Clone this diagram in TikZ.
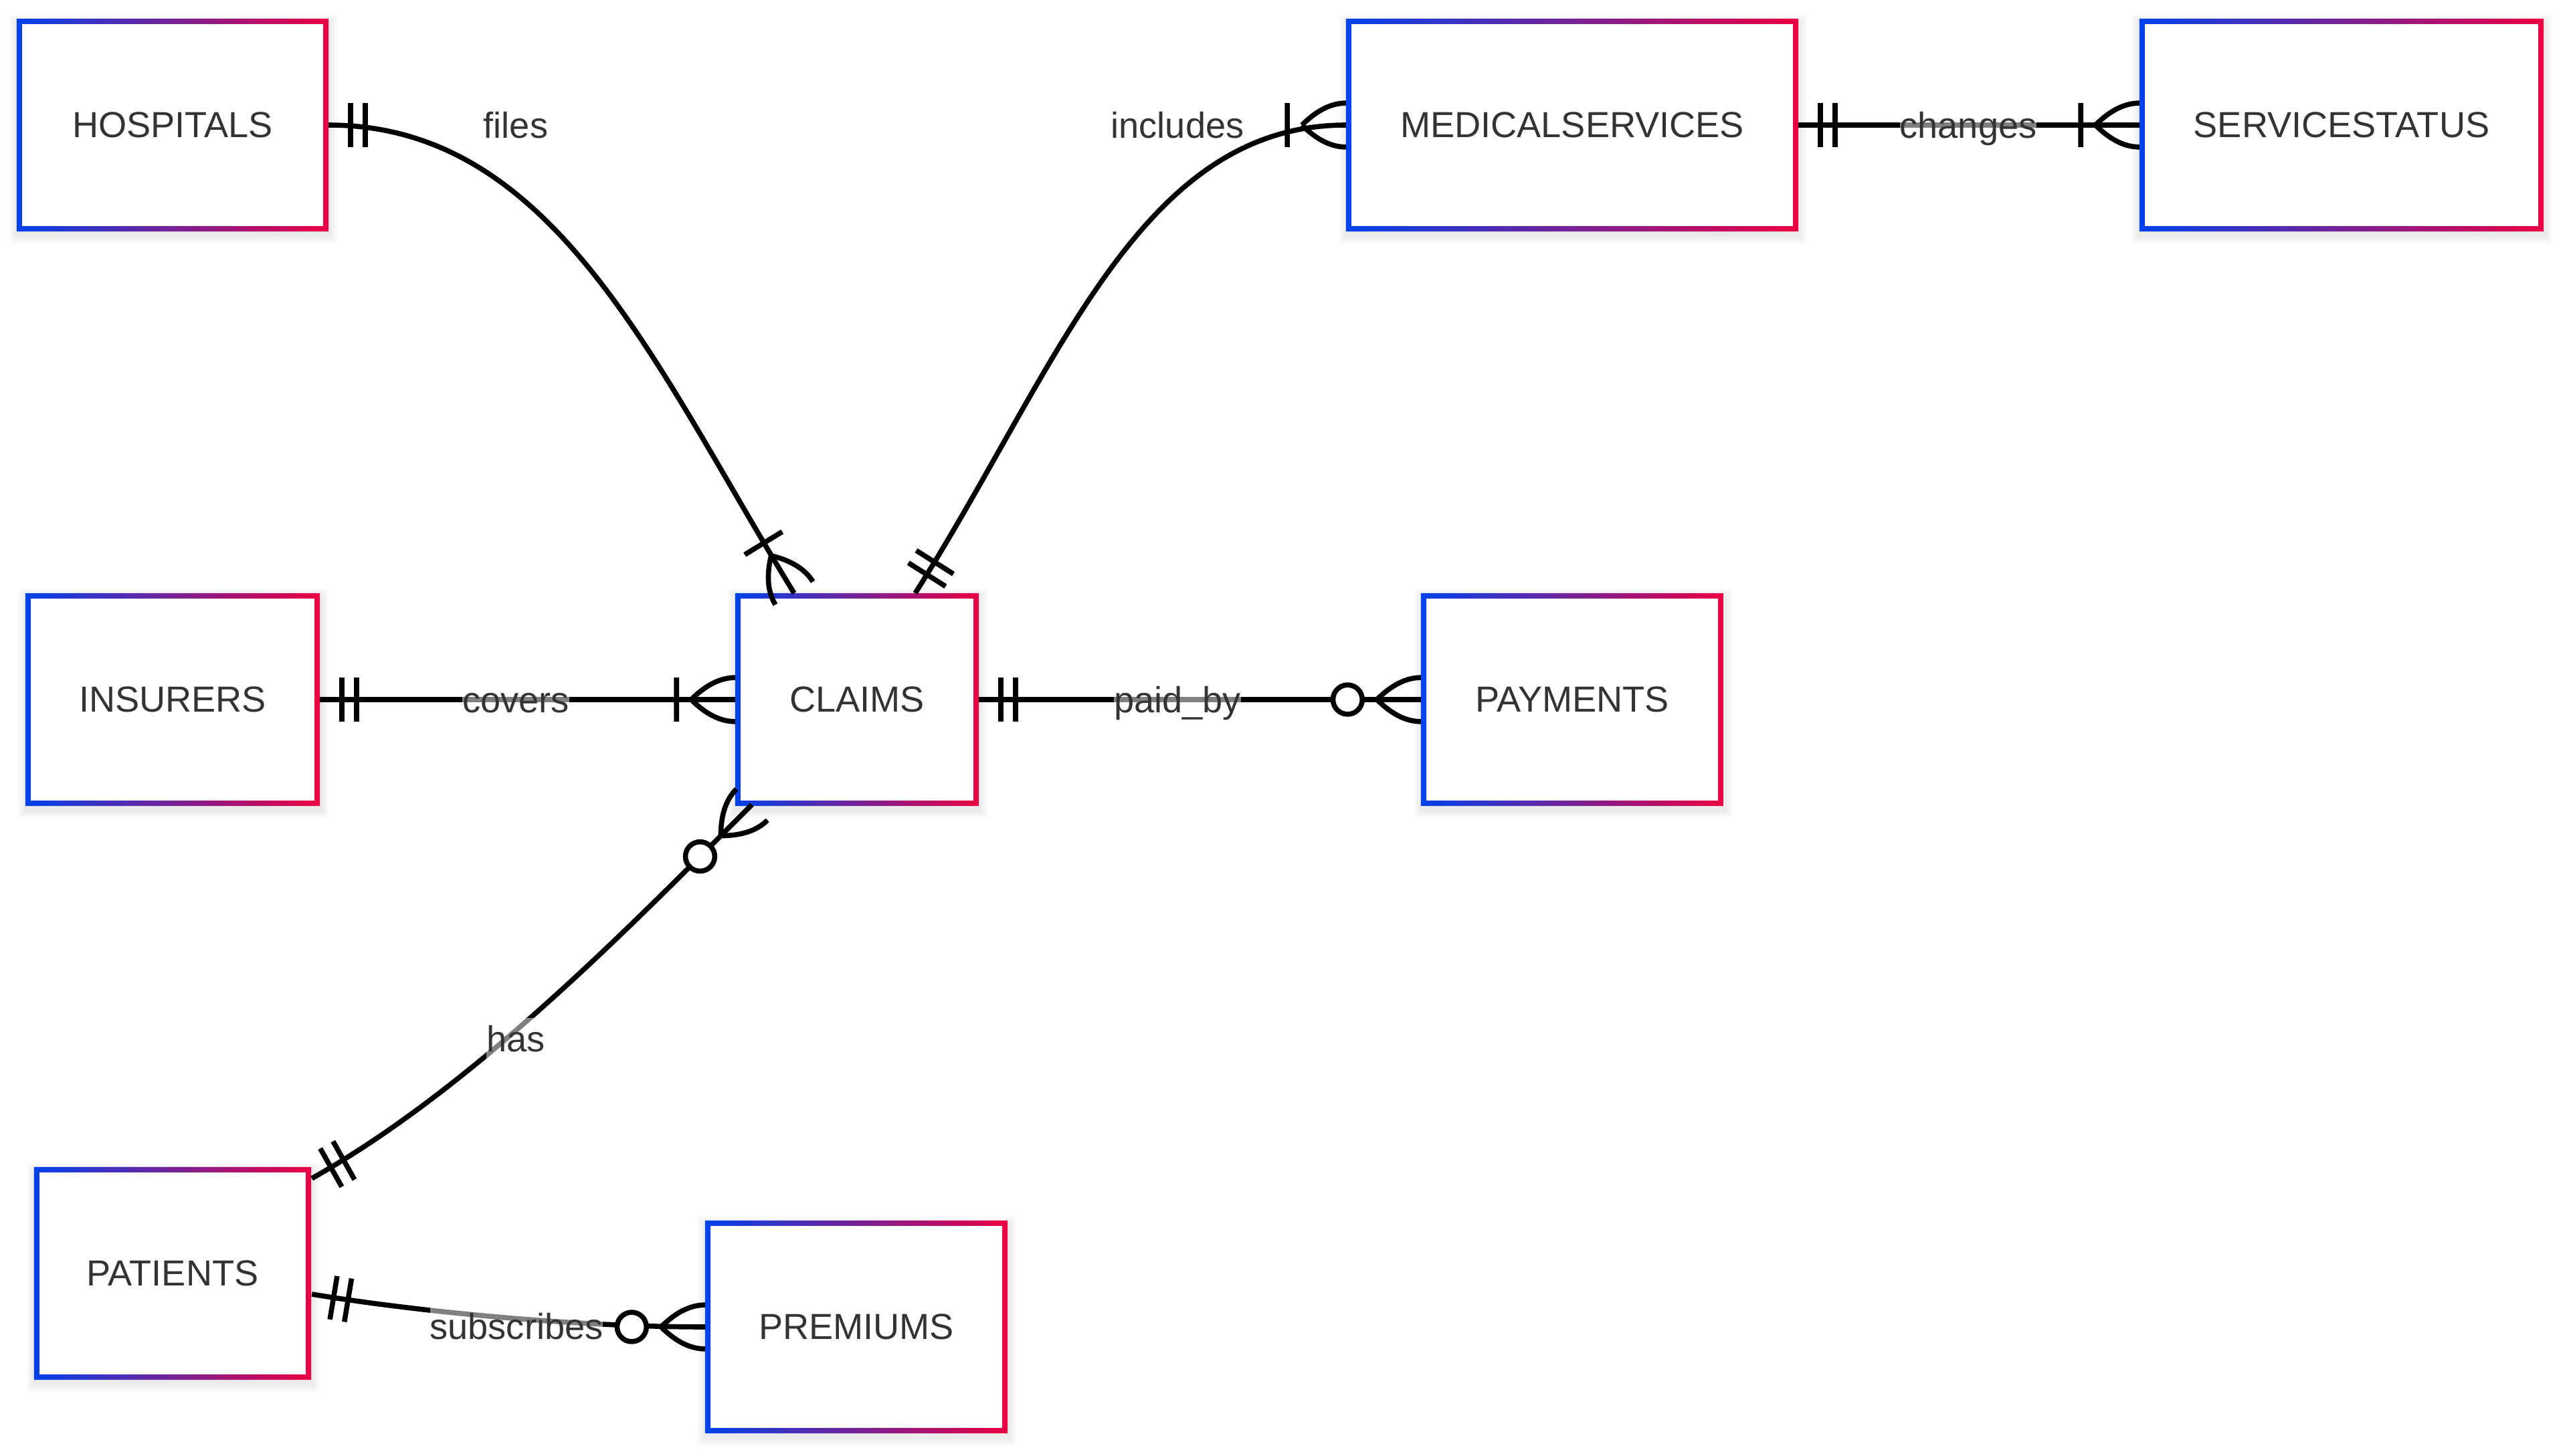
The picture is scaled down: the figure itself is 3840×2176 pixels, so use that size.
\documentclass[tikz,border=0pt]{standalone}
\usepackage{fontspec}
\setmainfont{Liberation Sans}
\usetikzlibrary{calc,backgrounds}
\definecolor{gbl}{HTML}{0042EB}
\definecolor{grd}{HTML}{EB0042}
\definecolor{txt}{HTML}{333333}
\begin{document}
\begin{tikzpicture}[x=0.01cm, y=-0.01cm,
  ent/.style={rectangle, fill=white, inner sep=0pt, outer sep=0pt, minimum height=3.18cm, text=txt, font=\fontsize{15.4pt}{18pt}\selectfont},
  lbl/.style={rectangle, fill=white, fill opacity=0.5, text opacity=1, text=txt, inner sep=0pt, outer sep=0pt, text height=0.50cm, text depth=0.12cm, font=\fontsize{15.4pt}{18pt}\selectfont},
  edge/.style={draw=black, line width=2.15pt},
  onlyone/.pic={\draw[line width=2.15pt, x=0.0365cm, y=0.0365cm] (9,-9) -- (9,9) (15,-9) -- (15,9);},
  onemany/.pic={\draw[line width=2.15pt, x=0.0365cm, y=0.0365cm] (-24,-9) -- (-24,9)
      (-18,0) .. controls (-12,-6) and (-6,-9) .. (0,-9)
      (-18,0) .. controls (-12,6) and (-6,9) .. (0,9);},
  zeromany/.pic={\draw[line width=2.15pt, x=0.0365cm, y=0.0365cm]
      (-18,0) .. controls (-12,-6) and (-6,-9) .. (0,-9)
      (-18,0) .. controls (-12,6) and (-6,9) .. (0,9);
      \draw[line width=2.15pt, fill=white, x=0.0365cm, y=0.0365cm] (-30,0) circle (6);}
]
\useasboundingbox (0,0) rectangle (3840,2176);

% entities
\node[ent, minimum width=4.66cm] (hosp) at (258,187) {HOSPITALS};
\node[ent, minimum width=6.76cm] (med) at (2350,187) {MEDICALSERVICES};
\node[ent, minimum width=6.04cm] (stat) at (3500,187) {SERVICESTATUS};
\node[ent, minimum width=4.40cm] (ins) at (258,1046) {INSURERS};
\node[ent, minimum width=3.64cm] (claims) at (1281,1046) {CLAIMS};
\node[ent, minimum width=4.52cm] (pay) at (2350,1046) {PAYMENTS};
\node[ent, minimum width=4.14cm] (pat) at (258,1904) {PATIENTS};
\node[ent, minimum width=4.52cm] (prem) at (1280,1984) {PREMIUMS};

% background and shadows
\begin{pgfonlayer}{background}
\fill[white] (0,0) rectangle (3840,2176);
\foreach \n in {hosp,med,stat,ins,claims,pay,pat,prem}{
  \foreach \k in {1,...,4}{
    \fill[black, opacity=0.018] ([shift={(1-3*\k,6-3*\k)}]\n.north west) rectangle ([shift={(1+3*\k,6+3*\k)}]\n.south east);
  }
}
\end{pgfonlayer}

% gradient borders
\foreach \n in {hosp,med,stat,ins,claims,pay,pat,prem}{
  \shade[left color=gbl, right color=grd, even odd rule]
    (\n.north west) rectangle (\n.south east)
    ([shift={(8,8)}]\n.north west) rectangle ([shift={(-8,-8)}]\n.south east);
}

% connection points
\coordinate (f1) at ($(claims.north)+(-94,0)$);
\coordinate (i1) at ($(claims.north)+(87,0)$);
\coordinate (h1) at ($(pat.north east)+(1,17)$);
\coordinate (h2) at ($(claims.south west)+(25,-2)$);
\coordinate (s1) at ($(pat.east)+(1,31)$);

% edges
\draw[edge] (hosp.east) .. controls +(337,0) and +(-209,-341) .. (f1);
\draw[edge] (i1) .. controls +(214,-338) and +(-310,0) .. (med.west);
\draw[edge] (med.east) -- (stat.west);
\draw[edge] (ins.east) -- (claims.west);
\draw[edge] (claims.east) -- (pay.west);
\draw[edge] (h1) .. controls +(244,-137) and +(-177,177) .. (h2);
\draw[edge] (s1) .. controls +(150,25) and +(-200,0) .. (prem.west);

% markers
\pic at (hosp.east) {onlyone};
\pic[rotate=-58.5] at (f1) {onemany};
\pic[rotate=57.7] at (i1) {onlyone};
\pic at (med.west) {onemany};
\pic at (med.east) {onlyone};
\pic at (stat.west) {onemany};
\pic at (ins.east) {onlyone};
\pic at (claims.west) {onemany};
\pic at (claims.east) {onlyone};
\pic at (pay.west) {zeromany};
\pic[rotate=29.3] at (h1) {onlyone};
\pic[rotate=45] at (h2) {zeromany};
\pic[rotate=-9.46] at (s1) {onlyone};
\pic at (prem.west) {zeromany};

% labels
\node[lbl] (lfiles) at (771,187) {files};
\node[lbl] (lincl) at (1760,187) {includes};
\node[lbl] (lchg) at (2942,187) {changes};
\node[lbl] (lcov) at (771,1046) {covers};
\node[lbl] (lpaid) at (1760,1046) {paid\_by};
\node[lbl] (lhas) at (771,1553) {has};
\node[lbl] (lsub) at (772,1983) {subscribes};
\end{tikzpicture}
\end{document}
